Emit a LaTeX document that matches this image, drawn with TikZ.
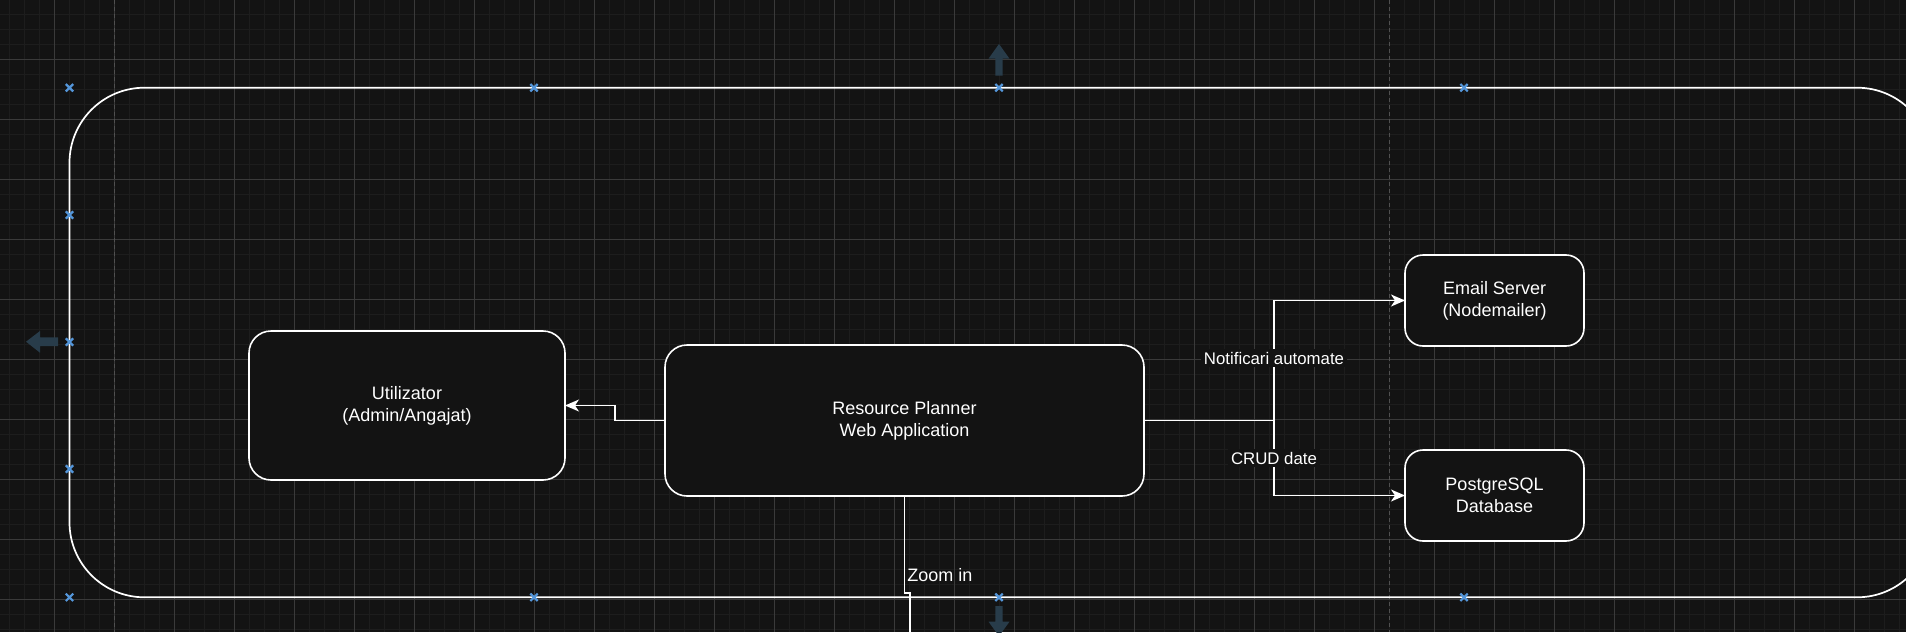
\documentclass[tikz,border=0pt]{standalone}
\usepackage{fontspec}
\setmainfont{Liberation Sans}
\usetikzlibrary{arrows.meta,shapes.misc}
\definecolor{canvas}{RGB}{19,19,19}
\definecolor{gridminor}{RGB}{29,29,29}
\definecolor{gridmajor}{RGB}{58,58,58}
\definecolor{pagebreak}{RGB}{80,80,80}
\definecolor{handleblue}{RGB}{84,150,218}
\definecolor{hint}{RGB}{40,60,74}

\begin{document}
\begin{tikzpicture}[x=0.5pt,y=-0.5pt]
	 \tikzstyle{box}=[rectangle,rounded corners=11pt,draw=white,line width=0.8pt,fill=canvas,text=white,align=center,inner sep=0pt,outer sep=0pt,font=\fontsize{9pt}{11pt}\selectfont]
	 \tikzstyle{small box}=[box,rounded corners=9pt,minimum width=89.5pt,minimum height=45.5pt]
	 \tikzstyle{edge}=[draw,line width=0.8pt,white]
	 \tikzstyle{arrow edge}=[edge,-{Stealth[length=7pt,width=6pt,inset=2pt]}]
	 \tikzstyle{tag}=[fill=canvas,text=white,inner sep=1.5pt,font=\fontsize{8.4pt}{10.8pt}\selectfont]
	 \tikzstyle{handle}=[cross out,draw=handleblue,line width=1.1pt,minimum size=2.6pt,inner sep=0pt]
	 \useasboundingbox (0,0) rectangle (1906,632);
	 \clip (0,0) rectangle (1906,632);
	 \fill[canvas] (0,0) rectangle (1906,632);
	 % grid
	 \foreach \x in {9.5,24.5,...,1904.5} \draw[gridminor,line width=0.5pt] (\x,0) -- (\x,632);
	 \foreach \y in {14.3,29.3,...,629.3} \draw[gridminor,line width=0.5pt] (0,\y) -- (1906,\y);
	 \foreach \x in {54.5,114.5,...,1854.5} \draw[gridmajor,line width=0.5pt] (\x,0) -- (\x,632);
	 \foreach \y in {59.3,119.3,...,599.3} \draw[gridmajor,line width=0.5pt] (0,\y) -- (1906,\y);
	 \draw[pagebreak,line width=0.5pt,dash pattern=on 2pt off 1.5pt] (114.5,0) -- (114.5,632);
	 \draw[pagebreak,line width=0.5pt,dash pattern=on 2pt off 1.5pt] (1389.5,0) -- (1389.5,632);
	 % container
	 \draw[white,line width=0.85pt,rounded corners=37.5pt] (69.5,87.7) rectangle (1932,597.3);
	 % hover arrows
	 \fill[hint] (999,44) -- (1009.5,58.7) -- (1002.7,58.7) -- (1002.7,75.7) -- (995.3,75.7) -- (995.3,58.7) -- (988.5,58.7) -- cycle;
	 \fill[hint] (26,341.7) -- (40,331) -- (40,337.3) -- (58,337.3) -- (58,346) -- (40,346) -- (40,352.7) -- cycle;
	 \fill[hint] (999,636) -- (1009.5,621.7) -- (1002.7,621.7) -- (1002.7,606) -- (995.3,606) -- (995.3,621.7) -- (988.5,621.7) -- cycle;
	 \foreach \p [count=\i] in {(69.5,87.7),(534,87.7),(999,87.7),(1464,87.7),(69.5,597.3),(534,597.3),(999,597.3),(1464,597.3),(69.5,215),(69.5,342),(69.5,469)}
		 \node[handle] (h\i) at \p {};
	 % shapes
	 \node[box,minimum width=158pt,minimum height=74.5pt] (user) at (407,405.5) {Utilizator\\(Admin/Angajat)};
	 \node[box,minimum width=239.5pt,minimum height=75.5pt] (app) at (904.5,420.5) {Resource Planner\\Web Application};
	 \node[small box] (mail) at (1494.5,300.5) {Email Server\\(Nodemailer)};
	 \node[small box] (db) at (1494.5,495.5) {PostgreSQL\\Database};
	 \coordinate (split) at (1274,420.5);
	 \coordinate (exit) at (910,640);
	 \draw[arrow edge] (app.west) -- ++(-50,0) |- (user.east);
	 \draw[edge] (app.east) -- (split);
	 \draw[arrow edge] (split) |- node[tag,pos=0.26] {Notificari automate} (mail.west);
	 \draw[arrow edge] (split) |- node[tag,pos=0.25] {CRUD date} (db.west);
	 \draw[edge] (app.south) -- (904.5,592.7) -- (910,592.7) -- (exit);
	 \node[text=white,anchor=west,inner sep=0pt,font=\fontsize{9pt}{11pt}\selectfont] (zoom) at (907,575) {Zoom in};
 \end{tikzpicture}
\end{document}
